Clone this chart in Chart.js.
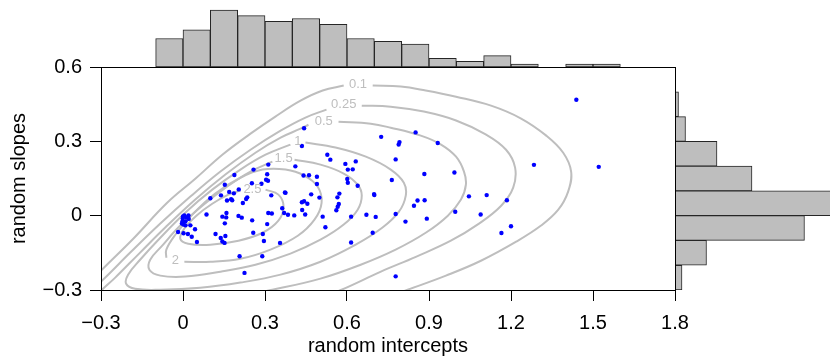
<!DOCTYPE html>
<html>
<head>
<meta charset="utf-8">
<script src="https://cdn.jsdelivr.net/npm/chart.js@4.4.1/dist/chart.umd.min.js"></script>
<style>
  body { margin: 0; background: #fff; }
  #wrap { position: relative; width: 830px; height: 358px; }
  #wrap canvas { position: absolute; }
</style>
</head>
<body>
<div id="wrap">
  <canvas id="topHist" width="830" height="67" style="left:0;top:0"></canvas>
  <canvas id="rightHist" width="155" height="358" style="left:675px;top:0"></canvas>
  <canvas id="scatter" width="830" height="358" style="left:0;top:0"></canvas>
</div>
<script>
// axis ticks
const xTicks = [-0.3, 0, 0.3, 0.6, 0.9, 1.2, 1.5, 1.8];
const xTickLabels = ['\u22120.3', '0', '0.3', '0.6', '0.9', '1.2', '1.5', '1.8'];
const yTicks = [-0.3, 0, 0.3, 0.6];
const yTickLabels = ['\u22120.3', '0', '0.3', '0.6'];

// random effects (intercept, slope)
const intercepts = [
  0.443, 0.435, 0.725, 0.789, 0.792, 0.778, 0.528, 0.539, 0.594, 0.632,
  0.603, 0.621, 0.411, 0.312, 0.258, 0.188, 0.308, 0.304, 0.311, 0.441,
  0.461, 0.490, 0.490, 0.601, 0.603, 0.639, 0.764, 0.778, 0.778, 0.699,
  0.700, 0.572, 0.565, 0.570, 0.566, 0.561, 0.469, 0.499, 0.373, 0.375,
  0.435, 0.443, 0.455, 0.363, 0.370, 0.384, 0.407, 0.436, 0.447, 0.511,
  0.521, 0.615, 0.671, 0.705, 0.694, 0.615, 0.323, 0.312, 0.325, 0.153,
  0.287, 0.252, 0.204, 0.169, 0.186, 0.139, 0.100, 0.161, 0.176, 0.180,
  0.235, 0.231, 0.219, 0.253, 0.159, 0.144, 0.158, 0.203, 0.215, 0.153,
  0.086, 0.257, 0.292, 0.296, 0.355, 0.119, 0.138, 0.144, 0.152, 0.155,
  0.207, 0.290, 0.225, 0.000, 0.005, 0.020, -0.001, 0.012, 0.021, -0.004,
  0.002, 0.009, 0.027, 0.044, -0.018, 0.002, 0.018, 0.032, 0.051, -0.002,
  0.009, 0.308, 1.439, 1.284, 1.521, 0.851, 0.932, 0.883, 0.993, 1.046,
  1.111, 1.185, 0.858, 0.884, 0.845, 0.814, 0.892, 0.996, 1.089, 1.200,
  1.165
];
const slopes = [
  0.353, 0.281, 0.318, 0.287, 0.297, 0.227, 0.246, 0.226, 0.209, 0.219,
  0.186, 0.187, 0.199, 0.206, 0.186, 0.164, 0.167, 0.145, 0.141, 0.162,
  0.163, 0.157, 0.128, 0.148, 0.133, 0.121, 0.144, 0.007, -0.245, 0.087,
  0.083, 0.089, 0.074, 0.047, 0.036, 0.022, 0.086, 0.073, 0.094, 0.092,
  0.054, 0.058, 0.048, 0.030, 0.011, 0.004, 0.001, 0.023, 0.005, -0.004,
  -0.047, -0.004, 0.004, -0.005, -0.069, -0.108, 0.082, 0.011, 0.009, 0.125,
  0.129, 0.131, 0.106, 0.096, 0.090, 0.082, 0.070, 0.061, 0.066, 0.062,
  0.074, 0.067, 0.051, -0.019, 0.011, -0.004, -0.007, -0.001, -0.008, -0.031,
  0.005, -0.069, -0.074, -0.102, -0.110, -0.074, -0.090, -0.104, -0.110, -0.082,
  -0.164, -0.164, -0.231, -0.003, 0.001, 0.001, -0.011, -0.007, -0.013, -0.032,
  -0.036, -0.039, -0.039, -0.055, -0.066, -0.071, -0.074, -0.085, -0.106, -0.023,
  -0.023, -0.034, 0.468, 0.205, 0.197, 0.336, 0.293, 0.168, 0.174, 0.078,
  0.083, 0.062, 0.061, 0.062, 0.040, -0.024, -0.012, 0.016, 0.005, -0.043,
  -0.070
];

// marginal histograms
const topBinEdges = [-0.1, 0, 0.1, 0.2, 0.3, 0.4, 0.5, 0.6, 0.7, 0.8, 0.9, 1.0, 1.1, 1.2, 1.3, 1.4, 1.5, 1.6];
const topCounts = [10, 13, 20, 18, 16, 17, 15, 10, 9, 8, 3, 2, 4, 1, null, 1, 1];
const rightBinEdges = [0.6, 0.5, 0.4, 0.3, 0.2, 0.1, 0, -0.1, -0.2, -0.3];
const rightCounts = [null, 1, 3, 12, 22, 62, 37, 9, 2];

// density contours, traced as (intercept, slope) pairs; gaps leave room for labels
const contourLevels = ['0.1', '0.25', '0.5', '1', '1.5', '2', '2.5'];
const contourLabelX = [0.640, 0.588, 0.515, 0.420, 0.368, -0.028, 0.254];
const contourLabelY = [0.529, 0.448, 0.379, 0.299, 0.230, -0.182, 0.105];

const c01a = [[-0.340,-0.270],[-0.300,-0.222],[-0.182,-0.093],[-0.058,0.052],[0.045,0.149],[0.144,0.246],
  [0.247,0.331],[0.338,0.400],[0.430,0.464],[0.511,0.505],[0.588,0.525]];
const c01b = [[0.694,0.525],[0.797,0.521],[0.888,0.505],[0.999,0.480],[1.127,0.444],[1.237,0.392],
  [1.329,0.323],[1.391,0.254],[1.420,0.178],[1.409,0.097],[1.373,0.024],[1.310,-0.040],[1.219,-0.105],
  [1.090,-0.182],[0.962,-0.242],[0.822,-0.299],[0.724,-0.339]];
const c025a = [[-0.358,-0.319],[-0.300,-0.266],[-0.193,-0.149],[-0.083,-0.032],[0.027,0.077],[0.137,0.178],
  [0.247,0.266],[0.357,0.343],[0.448,0.396],[0.525,0.428]];
const c025b = [[0.654,0.444],[0.760,0.440],[0.881,0.420],[0.999,0.384],[1.109,0.327],[1.182,0.266],
  [1.215,0.194],[1.208,0.113],[1.164,0.040],[1.083,-0.032],[0.980,-0.101],[0.852,-0.166],[0.724,-0.226],
  [0.580,-0.299],[0.503,-0.331]];
const c05a = [[-0.340,-0.347],[-0.300,-0.303],[-0.248,-0.250],[-0.157,-0.149],[-0.065,-0.048],[0.045,0.065],
  [0.155,0.166],[0.265,0.254],[0.357,0.315],[0.430,0.351],[0.459,0.367]];
const c05b = [[0.569,0.379],[0.687,0.371],[0.760,0.355],[0.870,0.323],[0.944,0.287],[0.999,0.238],
  [1.028,0.178],[1.035,0.125],[1.017,0.065],[0.969,0],[0.888,-0.069],[0.778,-0.137],[0.650,-0.198],
  [0.503,-0.254],[0.327,-0.299],[0.173,-0.331]];
const c1 = [[0.448,0.295],[0.558,0.275],[0.669,0.238],[0.760,0.186],[0.808,0.133],[0.815,0.081],
  [0.790,0.016],[0.730,-0.048],[0.632,-0.117],[0.503,-0.186],[0.357,-0.238],[0.210,-0.270],[0.063,-0.291],
  [-0.083,-0.299],[-0.175,-0.295],[-0.208,-0.275],[-0.201,-0.238],[-0.157,-0.178],[-0.083,-0.089],
  [0.008,0.012],[0.107,0.105],[0.210,0.186],[0.302,0.246],[0.393,0.287]];
const c15 = [[0.408,0.226],[0.503,0.206],[0.588,0.170],[0.639,0.125],[0.654,0.081],[0.639,0.024],
  [0.588,-0.036],[0.503,-0.097],[0.393,-0.153],[0.265,-0.198],[0.137,-0.226],[0.008,-0.246],[-0.083,-0.242],
  [-0.123,-0.218],[-0.120,-0.178],[-0.076,-0.121],[-0.010,-0.040],[0.075,0.044],[0.166,0.121],
  [0.247,0.178],[0.327,0.218]];
const c2 = [[0.005,-0.186],[0.100,-0.186],[0.210,-0.174],[0.320,-0.137],[0.420,-0.081],[0.481,-0.016],
  [0.507,0.052],[0.493,0.117],[0.445,0.161],[0.375,0.186],[0.291,0.186],[0.210,0.153],[0.118,0.089],
  [0.034,0.004],[-0.028,-0.077],[-0.061,-0.137],[-0.061,-0.170]];
const c25 = [[0.302,0.105],[0.349,0.085],[0.368,0.036],[0.349,-0.020],[0.291,-0.069],[0.203,-0.101],
  [0.100,-0.117],[0.019,-0.113],[-0.010,-0.093],[0.005,-0.052],[0.049,0],[0.107,0.048],[0.166,0.085],
  [0.210,0.101]];

const FONT = "'Liberation Sans', Arial, Helvetica, sans-serif";
const GRAY = '#bebebe';

const toXY = pts => pts.map(([x, y]) => ({ x, y }));
const mids = edges => edges.slice(1).map((e, i) => (e + edges[i]) / 2);

// ---- top histogram ----
new Chart(document.getElementById('topHist'), {
  type: 'bar',
  data: {
    datasets: [{
      data: mids(topBinEdges).map((x, i) => ({ x, y: topCounts[i] })),
      backgroundColor: GRAY,
      borderColor: '#262626',
      borderWidth: 1,
      borderSkipped: false,
      barPercentage: 1,
      categoryPercentage: 1
    }]
  },
  options: {
    responsive: false,
    animation: false,
    layout: { padding: { left: 101, right: 155, top: 0, bottom: 0 } },
    plugins: { legend: { display: false }, tooltip: { enabled: false } },
    scales: {
      x: { type: 'linear', min: -0.3, max: 1.8, offset: false, display: false },
      y: { min: 0, max: 23.5, display: false }
    }
  }
});

// ---- right histogram ----
new Chart(document.getElementById('rightHist'), {
  type: 'bar',
  data: {
    datasets: [{
      data: mids(rightBinEdges).map((y, i) => ({ x: rightCounts[i], y })),
      backgroundColor: GRAY,
      borderColor: '#262626',
      borderWidth: 1,
      borderSkipped: false,
      barPercentage: 1,
      categoryPercentage: 1
    }]
  },
  options: {
    indexAxis: 'y',
    responsive: false,
    animation: false,
    layout: { padding: { left: 0, right: 0, top: 67, bottom: 68 } },
    plugins: { legend: { display: false }, tooltip: { enabled: false } },
    scales: {
      y: { type: 'linear', min: -0.3, max: 0.6, offset: false, display: false },
      x: { min: 0, max: 44.3, display: false }
    }
  }
});

// ---- scatter with contours ----
const frameAndLabels = {
  id: 'frameAndLabels',
  afterDatasetsDraw(chart) {
    const { ctx, chartArea: a, scales: { x, y } } = chart;
    ctx.save();
    ctx.font = '13px ' + FONT;
    ctx.fillStyle = GRAY;
    ctx.textAlign = 'center';
    ctx.textBaseline = 'middle';
    contourLevels.forEach((t, i) => {
      ctx.fillText(t, x.getPixelForValue(contourLabelX[i]), y.getPixelForValue(contourLabelY[i]));
    });
    ctx.strokeStyle = '#000';
    ctx.lineWidth = 1;
    ctx.strokeRect(a.left + 0.5, a.top + 0.5, a.width, a.height);
    ctx.restore();
  }
};

const contourSegments = [c01a, c01b, c025a, c025b, c05a, c05b, c1, c15, c2, c25];

new Chart(document.getElementById('scatter'), {
  type: 'scatter',
  data: {
    datasets: [
      ...contourSegments.map(seg => ({
        data: toXY(seg),
        showLine: true,
        borderColor: GRAY,
        borderWidth: 2,
        pointRadius: 0,
        tension: 0.4,
        clip: 0,
        order: 2
      })),
      {
        data: intercepts.map((x, i) => ({ x, y: slopes[i] })),
        pointRadius: 2.2,
        pointBackgroundColor: '#0000ff',
        pointBorderWidth: 0,
        order: 1
      }
    ]
  },
  options: {
    responsive: false,
    animation: false,
    elements: { line: { capBezierPoints: false } },
    layout: { padding: { left: 0, right: 155, top: 67, bottom: 0 } },
    plugins: { legend: { display: false }, tooltip: { enabled: false } },
    scales: {
      x: {
        type: 'linear', min: -0.3, max: 1.8,
        afterBuildTicks: s => { s.ticks = xTicks.map(value => ({ value })); },
        afterFit: s => { s.height = 68; },
        ticks: { callback: (v, i) => xTickLabels[i], color: '#000', font: { family: FONT, size: 20 }, padding: 10, maxRotation: 0, autoSkip: false },
        grid: { drawOnChartArea: false, drawTicks: true, tickLength: 11, tickColor: '#000', tickWidth: 1 },
        border: { display: false },
        title: { display: true, text: 'random intercepts', color: '#000', font: { family: FONT, size: 20 }, padding: { top: 0, bottom: 0 } }
      },
      y: {
        type: 'linear', min: -0.3, max: 0.6,
        afterBuildTicks: s => { s.ticks = yTicks.map(value => ({ value })); },
        afterFit: s => { s.width = 101; },
        ticks: { callback: (v, i) => yTickLabels[i], color: '#000', font: { family: FONT, size: 20 }, padding: 8, autoSkip: false },
        grid: { drawOnChartArea: false, drawTicks: true, tickLength: 11, tickColor: '#000', tickWidth: 1 },
        border: { display: false },
        title: { display: true, text: 'random slopes', color: '#000', font: { family: FONT, size: 20 }, padding: { top: 7, bottom: 0 } }
      }
    }
  },
  plugins: [frameAndLabels]
});
</script>
</body>
</html>
